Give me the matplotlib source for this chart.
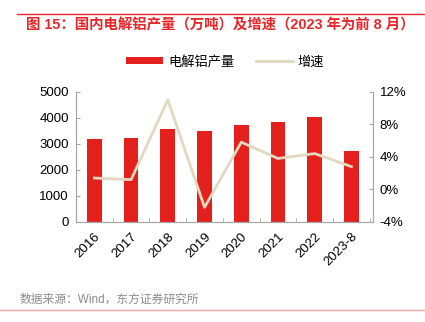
import matplotlib
matplotlib.use("Agg")
import matplotlib.pyplot as plt
from matplotlib.ticker import FuncFormatter

plt.rcParams['font.family'] = ['Liberation Sans', 'Noto Sans CJK SC', 'DejaVu Sans']

# data
years = ['2016', '2017', '2018', '2019', '2020', '2021', '2022', '2023-8']
output = [3185, 3225, 3570, 3495, 3710, 3840, 4015, 2715]   # 万吨
growth = [1.4, 1.2, 11.0, -2.2, 5.8, 3.8, 4.4, 2.8]         # %

bar_red = '#E3201B'
line_col = '#E2D8C0'
title_red = '#E8262A'
spine_grey = '#A6A6A6'

fig = plt.figure(figsize=(4.25, 3.22), dpi=100)
ax = fig.add_axes([0.178, 0.3106, 0.699, 0.4047])
ax2 = ax.twinx()

x = list(range(len(years)))
bars = ax.bar(x, output, width=0.4, color=bar_red, zorder=2)
line, = ax2.plot(x, growth, color=line_col, lw=2.0, zorder=3)

ax.set_xlim(-0.51, 7.58)
ax.set_ylim(0, 5000)
ax.set_yticks(range(0, 5001, 1000))
ax2.set_ylim(-4, 12)
ax2.set_yticks(range(-4, 13, 4))
ax2.yaxis.set_major_formatter(FuncFormatter(lambda v, p: f'{v:.0f}%'))

ax.set_xticks(x)
ax.set_xticklabels(years, rotation=45, ha='right', rotation_mode='anchor', fontsize=9.5)
ax.tick_params(axis='x', length=0, pad=6)
ax.set_xticks([i + 0.5 for i in range(-1, len(years))], minor=True)
ax.tick_params(axis='x', which='minor', direction='in', length=3, color=spine_grey)
ax.tick_params(axis='y', direction='in', length=3, color=spine_grey, labelsize=9.5, pad=5)
ax2.tick_params(axis='y', direction='in', length=3, color=spine_grey, labelsize=9.5, pad=5)

for a in (ax, ax2):
    a.spines['top'].set_visible(False)
    for s in ('left', 'right', 'bottom'):
        a.spines[s].set_color(spine_grey)
        a.spines[s].set_linewidth(0.8)

# legend
fig.legend([bars, line], ['电解铝产量', '增速'], loc='center', bbox_to_anchor=(0.53, 0.807),
           ncol=2, frameon=False, fontsize=9.5, handlelength=2.8, handleheight=0.45,
           columnspacing=1.6, handletextpad=0.4)

# title and frame lines
fig.add_artist(plt.Line2D([0.04, 1.0], [1 - 14.3 / 322] * 2, color=title_red, lw=1.0))
fig.text(0.062, 1 - 25 / 322, '图 15：国内电解铝产量（万吨）及增速（2023 年为前 8 月）',
         color=title_red, fontsize=10.4, fontweight='bold', va='center', ha='left')
fig.text(0.045, 1 - 300 / 322, '数据来源：Wind，东方证券研究所', color='#8C8C8C',
         fontsize=8.5, va='center', ha='left')
fig.add_artist(plt.Line2D([0.0, 1.0], [1 - 309.5 / 322] * 2, color='#F4A6A6', lw=1.0))

fig.savefig('out.png', dpi=100)
